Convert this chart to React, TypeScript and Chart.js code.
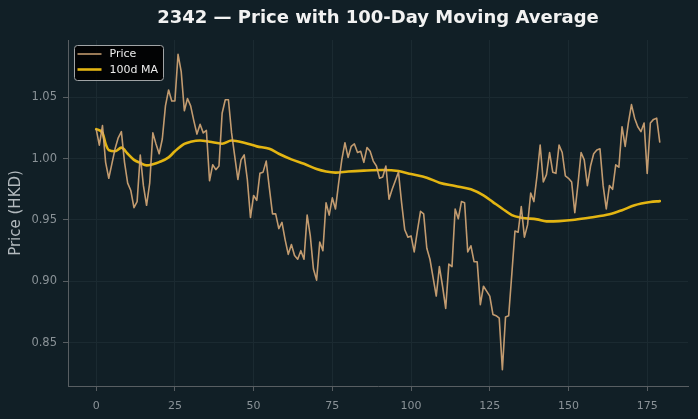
import React, { useEffect, useRef } from "react";
import { Chart, registerables } from "chart.js";

Chart.register(...registerables);

const TITLE = "2342 — Price with 100-Day Moving Average";
const Y_LABEL = "Price (HKD)";
const SERIES_NAMES = ["Price", "100d MA"];

const priceValues = [
  1.024, 1.011, 1.027, 0.997, 0.984, 0.996, 1.008, 1.017, 1.022, 0.997,
  0.980, 0.974, 0.960, 0.965, 1.003, 0.978, 0.962, 0.980, 1.021, 1.012,
  1.004, 1.016, 1.043, 1.056, 1.047, 1.047, 1.085, 1.071, 1.039, 1.049,
  1.043, 1.031, 1.020, 1.028, 1.021, 1.023, 0.982, 0.995, 0.991, 0.994,
  1.037, 1.048, 1.048, 1.021, 1.002, 0.983, 0.999, 1.003, 0.983, 0.952,
  0.970, 0.966, 0.988, 0.989, 0.998, 0.976, 0.955, 0.955, 0.943, 0.948,
  0.934, 0.922, 0.930, 0.921, 0.918, 0.925, 0.918, 0.954, 0.937, 0.910,
  0.901, 0.932, 0.925, 0.964, 0.954, 0.968, 0.959, 0.980, 0.999, 1.013,
  1.001, 1.010, 1.012, 1.005, 1.006, 0.997, 1.009, 1.006, 0.998, 0.994,
  0.984, 0.985, 0.994, 0.967, 0.975, 0.982, 0.989, 0.964, 0.942, 0.936,
  0.937, 0.924, 0.941, 0.957, 0.955, 0.927, 0.918, 0.903, 0.888, 0.912,
  0.896, 0.878, 0.914, 0.912, 0.959, 0.951, 0.965, 0.964, 0.924, 0.929,
  0.916, 0.916, 0.881, 0.896, 0.892, 0.888, 0.873, 0.872, 0.870, 0.828,
  0.871, 0.872, 0.906, 0.941, 0.940, 0.961, 0.936, 0.946, 0.972, 0.965,
  0.986, 1.011, 0.981, 0.987, 1.005, 0.989, 0.988, 1.011, 1.005, 0.986,
  0.984, 0.981, 0.956, 0.979, 1.005, 0.999, 0.978, 0.994, 1.004, 1.007,
  1.008, 0.978, 0.959, 0.978, 0.975, 0.995, 0.993, 1.026, 1.010, 1.029,
  1.044, 1.033, 1.026, 1.022, 1.029, 0.988, 1.029, 1.032, 1.033, 1.013,
];

const maIndex = [
  0, 2, 3, 4, 6, 8, 10, 12, 14, 16, 18, 20, 23, 25, 28, 30, 33, 36, 40, 43,
  47, 51, 55, 58, 62, 66, 70, 73, 76, 80, 85, 91, 96, 100, 105, 109, 114, 119,
  123, 126, 129, 132, 135, 140, 143, 147, 152, 157, 163, 167, 171, 176, 179,
];
const maValues = [
  1.024, 1.021, 1.012, 1.007, 1.006, 1.009, 1.004, 0.999, 0.9965, 0.9945,
  0.9955, 0.9972, 1.001, 1.006, 1.012, 1.0137, 1.0148, 1.0138, 1.0122, 1.0148,
  1.013, 1.010, 1.008, 1.004, 0.9994, 0.9958, 0.9915, 0.9895, 0.9886, 0.9895,
  0.9902, 0.9907, 0.9899, 0.9874, 0.9845, 0.9804, 0.9777, 0.975, 0.970, 0.9646,
  0.9592, 0.954, 0.9519, 0.9505, 0.9489, 0.9491, 0.9502, 0.952, 0.9546, 0.958,
  0.962, 0.9646, 0.9654,
];

const xTicks = [0, 25, 50, 75, 100, 125, 150, 175];
const yTicks = [0.85, 0.9, 0.95, 1.0, 1.05];

const BG = "#111f26";
const PRICE_COLOR = "rgba(214,168,120,0.9)";
const MA_COLOR = "#e3b512";
const GRID = "#1b2a31";
const AXIS = "#585e62";
const TICK_TEXT = "#8a9297";
const FONT = "DejaVu Sans";

export default function App() {
  const ref = useRef<HTMLCanvasElement | null>(null);

  useEffect(() => {
    const canvas = ref.current;
    if (!canvas) return;

    const overlay = {
      id: "overlay",
      afterDraw(chart: any) {
        const ctx = chart.ctx as CanvasRenderingContext2D;
        const area = chart.chartArea;
        ctx.save();
        // title
        ctx.fillStyle = "#f2f2f2";
        ctx.font = `bold 18px "${FONT}"`;
        ctx.textAlign = "center";
        ctx.textBaseline = "middle";
        ctx.fillText(TITLE, (area.left + area.right) / 2, 18);
        // legend
        const lx = area.left + 6.5;
        const ly = area.top + 5.5;
        const w = 89;
        const h = 35;
        ctx.beginPath();
        ctx.roundRect(lx, ly, w, h, 3);
        ctx.fillStyle = "rgba(0,0,0,0.88)";
        ctx.fill();
        ctx.strokeStyle = "#a0a4a6";
        ctx.lineWidth = 1;
        ctx.stroke();
        const colors = [PRICE_COLOR, MA_COLOR];
        const widths = [1.6, 2.6];
        const rows = [ly + 8.5, ly + 24];
        for (let i = 0; i < 2; i++) {
          ctx.beginPath();
          ctx.moveTo(lx + 3, rows[i]);
          ctx.lineTo(lx + 27, rows[i]);
          ctx.strokeStyle = colors[i];
          ctx.lineWidth = widths[i];
          ctx.stroke();
          ctx.fillStyle = "#ececec";
          ctx.font = `11px "${FONT}"`;
          ctx.textAlign = "left";
          ctx.textBaseline = "middle";
          ctx.fillText(SERIES_NAMES[i], lx + 35, rows[i] + 0.5);
        }
        ctx.restore();
      },
    };

    const chart = new Chart(canvas, {
      type: "line",
      data: {
        datasets: [
          {
            label: SERIES_NAMES[0],
            data: priceValues.map((v, i) => ({ x: i, y: v })),
            borderColor: PRICE_COLOR,
            borderWidth: 1.6,
            pointRadius: 0,
            tension: 0,
            borderJoinStyle: "round",
          },
          {
            label: SERIES_NAMES[1],
            data: maIndex.map((x, i) => ({ x, y: maValues[i] })),
            borderColor: MA_COLOR,
            borderWidth: 2.6,
            pointRadius: 0,
            cubicInterpolationMode: "monotone",
            borderJoinStyle: "round",
            borderCapStyle: "round",
          },
        ],
      },
      options: {
        animation: false,
        responsive: false,
        maintainAspectRatio: false,
        layout: { padding: { top: 40, right: 10, left: 0, bottom: 0 } },
        plugins: {
          legend: { display: false },
          title: { display: false },
          tooltip: { enabled: false },
        },
        scales: {
          x: {
            type: "linear",
            min: -8.95,
            max: 187.95,
            afterBuildTicks: (s: any) => {
              s.ticks = xTicks.map((v) => ({ value: v }));
            },
            afterFit: (s: any) => {
              s.height = 33;
            },
            grid: { color: GRID, tickColor: AXIS, tickLength: 5, lineWidth: 1 },
            border: { color: AXIS, width: 1 },
            ticks: {
              color: TICK_TEXT,
              font: { family: FONT, size: 11 },
              padding: 9,
              maxRotation: 0,
              callback: (v: any) => String(v),
            },
          },
          y: {
            type: "linear",
            min: 0.8147,
            max: 1.0967,
            afterBuildTicks: (s: any) => {
              s.ticks = yTicks.map((v) => ({ value: v }));
            },
            afterFit: (s: any) => {
              s.width = 68;
            },
            grid: { color: GRID, tickColor: AXIS, tickLength: 5, lineWidth: 1 },
            border: { color: AXIS, width: 1 },
            ticks: {
              color: TICK_TEXT,
              font: { family: FONT, size: 11.5 },
              padding: 6,
              callback: (v: any) => Number(v).toFixed(2),
            },
            title: {
              display: true,
              text: Y_LABEL,
              color: "#b3babe",
              font: { family: FONT, size: 15 },
              padding: { top: 7, bottom: 0 },
            },
          },
        },
      },
      plugins: [overlay],
    } as any);

    return () => chart.destroy();
  }, []);

  return (
    <div
      style={{
        position: "fixed",
        left: 0,
        top: 0,
        width: 698,
        height: 419,
        background: BG,
      }}
    >
      <canvas ref={ref} width={698} height={419} style={{ display: "block" }} />
    </div>
  );
}
